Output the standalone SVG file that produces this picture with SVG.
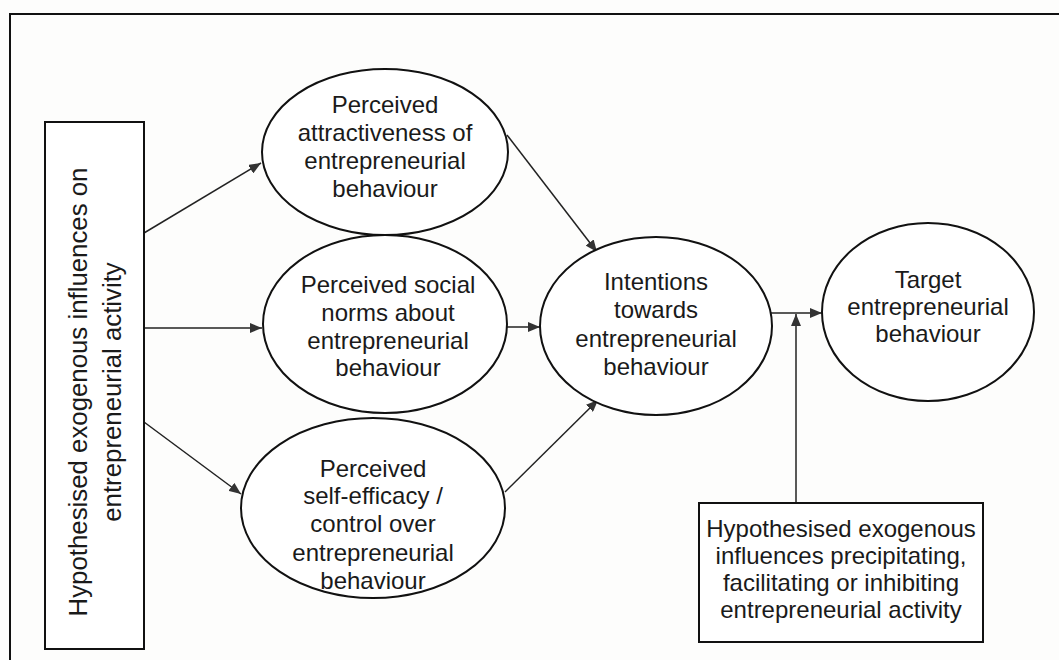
<svg xmlns="http://www.w3.org/2000/svg" width="1059" height="660" viewBox="0 0 1059 660">
<defs>
<style>
.t{font-family:"Liberation Sans",Arial,sans-serif;font-size:24px;fill:#1a1a1a;text-anchor:middle}
.big{font-size:25.8px}
.n{fill:#fff;stroke:#111;stroke-width:2}
.c{fill:none;stroke:#222;stroke-width:1.5}
</style>
<marker id="ah" viewBox="0 0 12 10" refX="12" refY="5" markerWidth="12" markerHeight="10" markerUnits="userSpaceOnUse" orient="auto">
<path d="M0,0 L12,5 L0,10 Z" fill="#333"/>
</marker>
</defs>
<rect width="1059" height="660" fill="#fdfdfc"/>
<path d="M10,660 V14 H1059" fill="none" stroke="#111" stroke-width="2"/>
<g id="connectors">
<line class="c" x1="144" y1="233" x2="261" y2="163" marker-end="url(#ah)"/>
<line class="c" x1="144" y1="328" x2="262" y2="328" marker-end="url(#ah)"/>
<line class="c" x1="144" y1="422" x2="241" y2="494" marker-end="url(#ah)"/>
<line class="c" x1="507" y1="135" x2="597" y2="252" marker-end="url(#ah)"/>
<line class="c" x1="507" y1="327" x2="540" y2="327" marker-end="url(#ah)"/>
<line class="c" x1="505" y1="492" x2="598" y2="400" marker-end="url(#ah)"/>
<line class="c" x1="771" y1="313" x2="822" y2="313" marker-end="url(#ah)"/>
<line class="c" x1="796" y1="503" x2="796" y2="314" marker-end="url(#ah)"/>
</g>
<g id="exogenous-left">
<rect class="n" x="45" y="122" width="99" height="527"/>
<text class="t big" transform="translate(87,392) rotate(-90)">Hypothesised exogenous influences on</text>
<text class="t big" transform="translate(121,392) rotate(-90)">entrepreneurial activity</text>
</g>
<g id="attractiveness">
<ellipse class="n" cx="385" cy="152" rx="123" ry="83"/>
<text class="t" x="385" y="113">Perceived</text>
<text class="t" x="385" y="141">attractiveness of</text>
<text class="t" x="385" y="169">entrepreneurial</text>
<text class="t" x="385" y="197">behaviour</text>
</g>
<g id="social-norms">
<ellipse class="n" cx="385" cy="324" rx="122" ry="89"/>
<text class="t" x="388" y="293">Perceived social</text>
<text class="t" x="388" y="321">norms about</text>
<text class="t" x="388" y="349">entrepreneurial</text>
<text class="t" x="388" y="376">behaviour</text>
</g>
<g id="self-efficacy">
<ellipse class="n" cx="373" cy="508" rx="132" ry="90"/>
<text class="t" x="373" y="477">Perceived</text>
<text class="t" x="373" y="504">self-efficacy /</text>
<text class="t" x="373" y="532">control over</text>
<text class="t" x="373" y="561">entrepreneurial</text>
<text class="t" x="373" y="589">behaviour</text>
</g>
<g id="intentions">
<ellipse class="n" cx="656" cy="326" rx="116" ry="89"/>
<text class="t" x="656" y="290">Intentions</text>
<text class="t" x="656" y="318">towards</text>
<text class="t" x="656" y="347">entrepreneurial</text>
<text class="t" x="656" y="375">behaviour</text>
</g>
<g id="target">
<ellipse class="n" cx="928" cy="312" rx="106" ry="89"/>
<text class="t" x="928" y="288">Target</text>
<text class="t" x="928" y="315">entrepreneurial</text>
<text class="t" x="928" y="342">behaviour</text>
</g>
<g id="exogenous-right">
<rect class="n" x="699" y="503" width="284" height="139"/>
<text class="t" x="841" y="537">Hypothesised exogenous</text>
<text class="t" x="841" y="564">influences precipitating,</text>
<text class="t" x="841" y="591">facilitating or inhibiting</text>
<text class="t" x="841" y="618">entrepreneurial activity</text>
</g>
</svg>
